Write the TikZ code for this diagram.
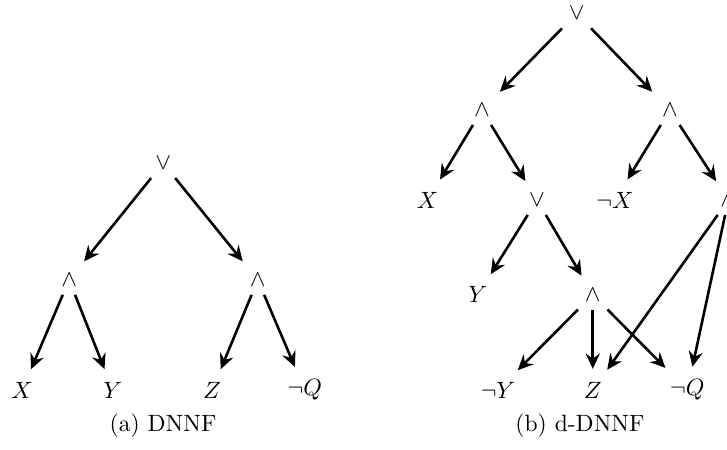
\documentclass[tikz,border=0pt]{standalone}
\usetikzlibrary{arrows.meta}
\begin{document}
\begin{tikzpicture}[
                    line width=1.1pt,
                    op/.style={inner sep=3pt},
                    lit/.style={inner sep=3pt},
                    edge/.style={-{Stealth[length=6.5pt,width=6pt,inset=2.2pt]}, shorten >=2pt}
                ]
                \useasboundingbox (0,0) rectangle (10.83,6.70);

                % (a) DNNF
                \node[op]  (a)   at (2.43,4.27) {$\vee$};
                \node[op]  (a1)  at (1.03,2.53) {$\wedge$};
                \node[op]  (a2)  at (3.84,2.53) {$\wedge$};
                \node[lit] (ax)  at (0.33,0.89) {$X$};
                \node[lit] (ay)  at (1.68,0.89) {$Y$};
                \node[lit] (az)  at (3.16,0.89) {$Z$};
                \node[lit] (anq) at (4.54,0.89) {$\neg Q$};
                \node (acap) at (2.43,0.36) {(a) DNNF};

                \draw[edge] (a)  -- (a1);
                \draw[edge] (a)  -- (a2);
                \draw[edge] (a1) -- (ax);
                \draw[edge] (a1) -- (ay);
                \draw[edge] (a2) -- (az);
                \draw[edge] (a2) -- (anq);

                % (b) d-DNNF
                \node[op]  (b)   at (8.59,6.50) {$\vee$};
                \node[op]  (b1)  at (7.18,5.06) {$\wedge$};
                \node[op]  (b2)  at (9.98,5.06) {$\wedge$};
                \node[lit] (bx)  at (6.37,3.72) {$X$};
                \node[op]  (b3)  at (8.00,3.72) {$\vee$};
                \node[lit] (bnx) at (9.16,3.72) {$\neg X$};
                \node[op]  (b4)  at (10.85,3.72) {$\wedge$};
                \node[lit] (by)  at (7.12,2.31) {$Y$};
                \node[op]  (b5)  at (8.83,2.31) {$\wedge$};
                \node[lit] (bny) at (7.42,0.89) {$\neg Y$};
                \node[lit] (bz)  at (8.83,0.89) {$Z$};
                \node[lit] (bnq) at (10.24,0.89) {$\neg Q$};
                \node (bcap) at (8.64,0.36) {(b) d-DNNF};

                \draw[edge] (b)  -- (b1);
                \draw[edge] (b)  -- (b2);
                \draw[edge] (b1) -- (bx);
                \draw[edge] (b1) -- (b3);
                \draw[edge] (b2) -- (bnx);
                \draw[edge] (b2) -- (b4);
                \draw[edge] (b3) -- (by);
                \draw[edge] (b3) -- (b5);
                \draw[edge] (b5) -- (bny);
                \draw[edge] (b5) -- (bz);
                \draw[edge] (b5) -- (bnq);
                \draw[edge] (b4) -- (bz);
                \draw[edge] (b4) -- (bnq);

            \end{tikzpicture}
\end{document}
